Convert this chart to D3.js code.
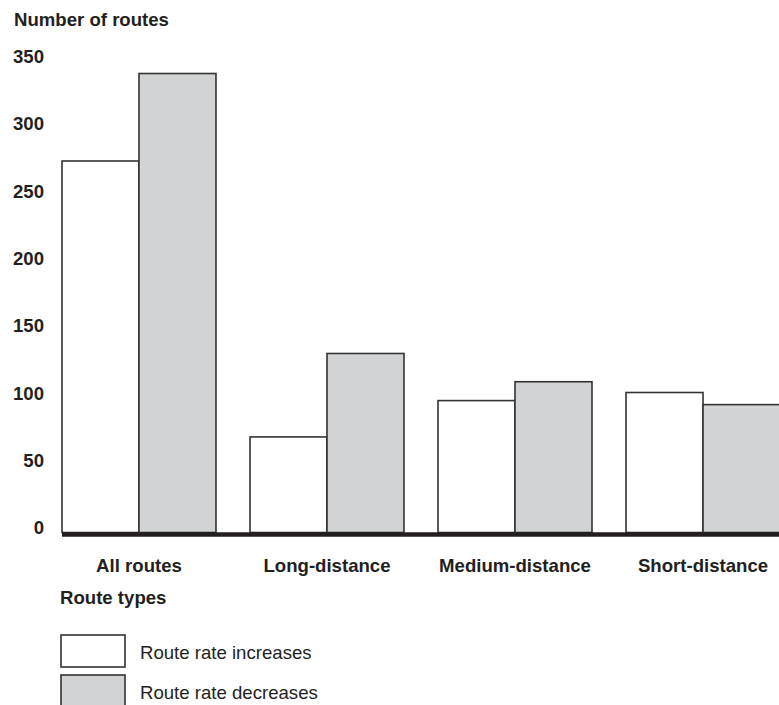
<!DOCTYPE html>
<html>
<head>
<meta charset="utf-8">
<script src="https://cdn.jsdelivr.net/npm/d3@7"></script>
<style>
  html, body { margin: 0; padding: 0; background: #fff; }
  svg { display: block; }
  text { font-family: "Liberation Sans", Arial, Helvetica, sans-serif; fill: #231f20; }
</style>
</head>
<body>
<svg id="chart" width="779" height="705"></svg>
<script>
// ---- data ----
const categories = ["All routes", "Long-distance", "Medium-distance", "Short-distance"];
const seriesNames = ["Route rate increases", "Route rate decreases"];
const increases = [276, 71, 98, 104];
const decreases = [341, 133, 112, 95];
const yTicks = [0, 50, 100, 150, 200, 250, 300, 350];
const yTitle = "Number of routes";
const xTitle = "Route types";
const seriesColors = ["#ffffff", "#d1d3d4"];

const rows = categories.map((c, i) => ({ cat: c, values: [increases[i], decreases[i]] }));

const svg = d3.select("#chart");
const W = 779, H = 705;
const FS = "18.6px";

const y = d3.scaleLinear().domain([0, 350]).range([532.5, 61.4]);
const x0 = d3.scaleBand().domain(categories).range([62, 780]).paddingInner(0.181).paddingOuter(0);
const x1 = d3.scaleBand().domain(seriesNames).range([0, x0.bandwidth()]);
const color = d3.scaleOrdinal().domain(seriesNames).range(seriesColors);

// bars
const g = svg.append("g");
g.selectAll("g.grp").data(rows).join("g")
  .attr("class", "grp")
  .attr("transform", d => `translate(${x0(d.cat)},0)`)
  .selectAll("rect").data(d => d.values.map((v, k) => ({ key: seriesNames[k], v })))
  .join("rect")
  .attr("x", d => x1(d.key))
  .attr("y", d => y(d.v))
  .attr("width", x1.bandwidth())
  .attr("height", d => y(0) - y(d.v))
  .attr("fill", d => color(d.key))
  .attr("stroke", "#333")
  .attr("stroke-width", 1.6);

// baseline
svg.append("line")
  .attr("x1", x0.range()[0]).attr("x2", W)
  .attr("y1", y(0) + 2).attr("y2", y(0) + 2)
  .attr("stroke", "#231f20").attr("stroke-width", 4.5);

// y axis
const yAxis = svg.append("g")
  .attr("transform", "translate(44,0)")
  .call(d3.axisLeft(y).tickValues(yTicks).tickFormat(d3.format("d")).tickSize(0).tickPadding(0));
yAxis.select(".domain").remove();
yAxis.selectAll("text")
  .attr("dy", "0.06em")
  .attr("x", 0)
  .style("font-size", FS).style("font-weight", "bold")
  .style("font-family", '"Liberation Sans", Arial, sans-serif')
  .attr("fill", "#231f20");

// x axis labels
const xAxis = svg.append("g")
  .attr("transform", `translate(0,${y(0)})`)
  .call(d3.axisBottom(x0).tickSize(0).tickPadding(0));
xAxis.select(".domain").remove();
xAxis.selectAll("text")
  .attr("y", 39).attr("dy", 0)
  .style("font-size", FS).style("font-weight", "bold")
  .style("font-family", '"Liberation Sans", Arial, sans-serif')
  .attr("fill", "#231f20");

// titles
svg.append("text").attr("x", 14).attr("y", 26)
  .style("font-size", FS).style("font-weight", "bold").text(yTitle);
svg.append("text").attr("x", 60).attr("y", 604)
  .style("font-size", FS).style("font-weight", "bold").text(xTitle);

// legend
const leg = svg.append("g").attr("transform", "translate(61,635)");
const items = leg.selectAll("g").data(seriesNames).join("g")
  .attr("transform", (d, i) => `translate(0,${i * 40})`);
items.append("rect")
  .attr("width", 64).attr("height", 32)
  .attr("fill", d => color(d))
  .attr("stroke", "#333").attr("stroke-width", 1.6);
items.append("text")
  .attr("x", 79).attr("y", 24)
  .style("font-size", FS)
  .text(d => d);
</script>
</body>
</html>
